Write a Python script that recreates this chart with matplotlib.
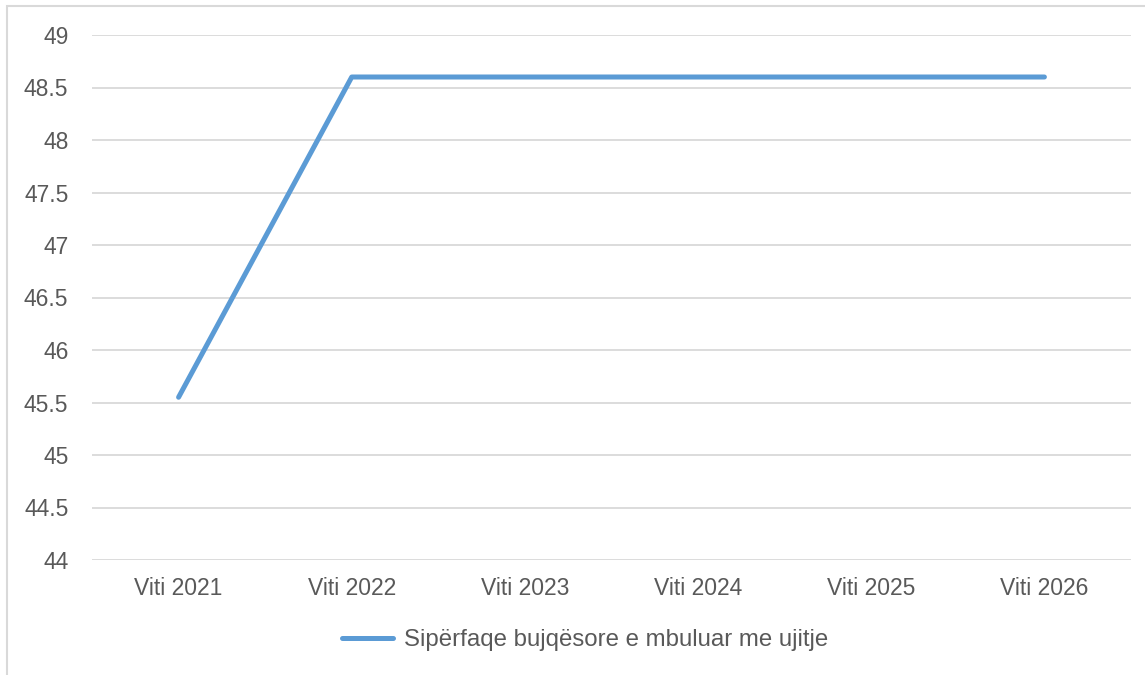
import matplotlib

matplotlib.use("Agg")
import matplotlib.pyplot as plt
from matplotlib.patches import Rectangle

plt.rcParams["font.family"] = ["Liberation Sans", "DejaVu Sans"]

years = ["Viti 2021", "Viti 2022", "Viti 2023", "Viti 2024", "Viti 2025", "Viti 2026"]
values = [45.55, 48.6, 48.6, 48.6, 48.6, 48.6]
series_name = "Sipërfaqe bujqësore e mbuluar me ujitje"
yticks = [44, 44.5, 45, 45.5, 46, 46.5, 47, 47.5, 48, 48.5, 49]

TEXT = "#595959"
GRID = "#D9D9D9"
BLUE = "#5B9BD5"

fig = plt.figure(figsize=(11.45, 6.75), dpi=100, facecolor="white")
# chart-area border (only left and top edges fall inside the picture)
fig.patches.append(Rectangle((7 / 1145, -0.1), 1.2, 1.1 - 6 / 675,
                             transform=fig.transFigure, fill=False,
                             edgecolor=GRID, linewidth=1.5))

ax = fig.add_axes([92 / 1145, 1 - 560 / 675, (1131 - 92) / 1145, (560 - 35) / 675])
x = list(range(len(years)))
line, = ax.plot(x, values, color=BLUE, linewidth=3.6, solid_capstyle="round",
                label=series_name, zorder=3)

ax.set_xlim(-0.5, len(years) - 0.5)
ax.set_ylim(44, 49)
ax.set_yticks(yticks)
ax.set_yticklabels([f"{v:g}" for v in yticks])
ax.set_xticks(x)
ax.set_xticklabels(years)
ax.grid(axis="y", color=GRID, linewidth=1.3)
ax.set_axisbelow(True)
for s in ax.spines.values():
    s.set_visible(False)
ax.tick_params(length=0, labelsize=16.5, colors=TEXT)
ax.tick_params(axis="y", pad=17)
ax.tick_params(axis="x", pad=12)

fig.legend(handles=[line], loc="center", bbox_to_anchor=(0.511, 1 - 640 / 675),
           frameon=False, fontsize=17.3, labelcolor=TEXT, handlelength=2.1,
           handletextpad=0.45)

fig.savefig("out.png", dpi=100, facecolor=fig.get_facecolor())
